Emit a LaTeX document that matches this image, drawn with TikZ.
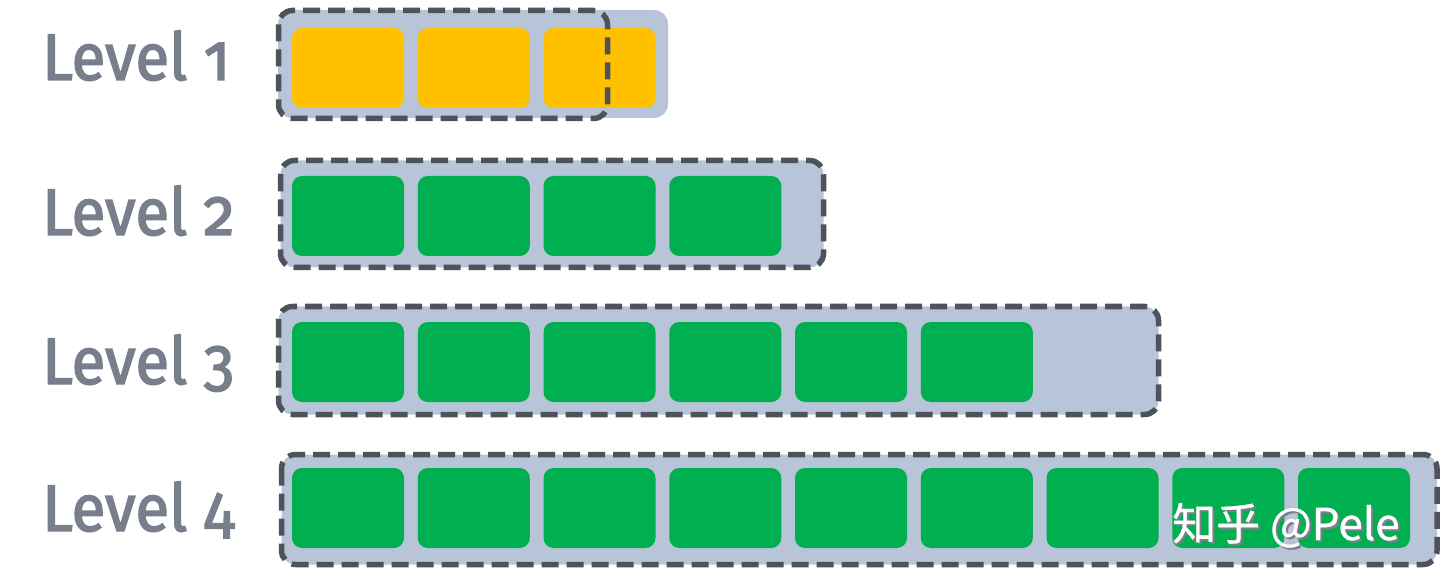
\documentclass[tikz,border=0pt]{standalone}
\usepackage{fontspec}
\newfontfamily\labfont[Numbers=OldStyle, FakeBold=2.2, FakeStretch=0.94]{Fira Sans}
\newfontfamily\cjk[FakeBold=0.8]{Noto Sans CJK SC}
\definecolor{panelc}{HTML}{B8C4D8}
\definecolor{dashc}{HTML}{4E525A}
\definecolor{yelc}{HTML}{FFC000}
\definecolor{grnc}{HTML}{00B050}
\definecolor{labc}{HTML}{787E8C}
\definecolor{shadc}{HTML}{7A7F88}
\begin{document}
\begin{tikzpicture}[x=1pt,y=-1pt,
  panel/.style={fill=panelc, rounded corners=14pt},
  dashbox/.style={draw=dashc, line width=5.5pt, dash pattern=on 17pt off 8pt, rounded corners=14pt},
  cellbox/.style={rounded corners=10pt, minimum width=112pt, minimum height=80pt, inner sep=0pt, outer sep=0pt, anchor=north west},
  lab/.style={anchor=base west, text=labc, font=\labfont\fontsize{66}{70}\selectfont, inner sep=0pt}]
\useasboundingbox (0,0) rectangle (1440,585);
% Level 1
\fill[panel] (278,10) rectangle (668,118);
\foreach \i in {0,1,2} \node[cellbox, fill=yelc] (a\i) at ({292+125.75*\i},28) {};
\draw[dashbox] (278.5,10.5) rectangle (607.5,118.5);
% Level 2
\fill[panel] (280.5,160.5) rectangle (823.5,267.5);
\foreach \i in {0,...,3} \node[cellbox, fill=grnc] (b\i) at ({292+125.75*\i},176) {};
\draw[dashbox] (280.5,160.5) rectangle (823.5,267.5);
% Level 3
\fill[panel] (278.5,306.5) rectangle (1158.5,414.5);
\foreach \i in {0,...,5} \node[cellbox, fill=grnc] (c\i) at ({292+125.75*\i},322) {};
\draw[dashbox] (278.5,306.5) rectangle (1158.5,414.5);
% Level 4
\fill[panel] (281.5,454.5) rectangle (1437,564.5);
\foreach \i in {0,...,8} \node[cellbox, fill=grnc] (d\i) at ({292+125.75*\i},468) {};
\draw[dashbox] (281.5,454.5) rectangle (1437,564.5);
% labels
\node[lab] (l1) at (42,80) {Level\ 1};
\node[lab] (l2) at (42,235) {Level\ 2};
\node[lab] (l3) at (42,384) {Level\ 3};
\node[lab] (l4) at (42,531) {Level\ 4};
% watermark
\node[anchor=base west, inner sep=0pt, text=shadc, font=\cjk\fontsize{44}{46}\selectfont] (wms) at (1174,542) {知乎 @Pele};
\node[anchor=base west, inner sep=0pt, text=white, font=\cjk\fontsize{44}{46}\selectfont] (wm) at (1172,540) {知乎 @Pele};
\end{tikzpicture}
\end{document}
